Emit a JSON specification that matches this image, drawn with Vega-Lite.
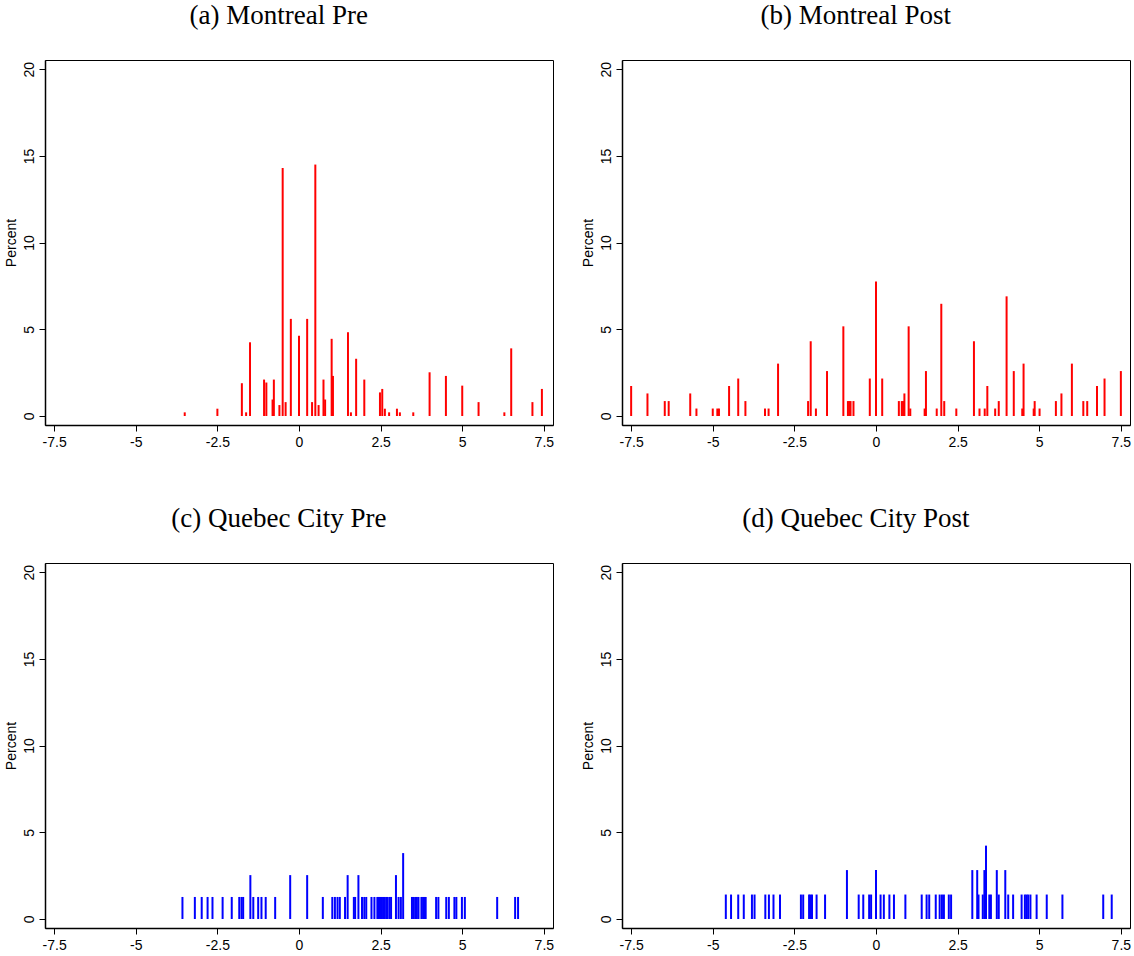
{
  "$schema": "https://vega.github.io/schema/vega-lite/v6.json",
  "background": "white",
  "padding": {"left": 3, "top": 1, "right": 0, "bottom": 0},
  "datasets": {
    "spikes": [
      {"panel": "a", "x": -3.5, "pct": 0.21},
      {"panel": "a", "x": -2.5, "pct": 0.42},
      {"panel": "a", "x": -1.75, "pct": 1.89},
      {"panel": "a", "x": -1.62, "pct": 0.21},
      {"panel": "a", "x": -1.5, "pct": 4.25},
      {"panel": "a", "x": -1.07, "pct": 2.1},
      {"panel": "a", "x": -1.0, "pct": 1.93},
      {"panel": "a", "x": -0.81, "pct": 0.95},
      {"panel": "a", "x": -0.77, "pct": 2.1},
      {"panel": "a", "x": -0.6, "pct": 0.63},
      {"panel": "a", "x": -0.5, "pct": 14.3},
      {"panel": "a", "x": -0.41, "pct": 0.8},
      {"panel": "a", "x": -0.25, "pct": 5.6},
      {"panel": "a", "x": 0.0, "pct": 4.62},
      {"panel": "a", "x": 0.25, "pct": 5.6},
      {"panel": "a", "x": 0.4, "pct": 0.8},
      {"panel": "a", "x": 0.5, "pct": 14.5},
      {"panel": "a", "x": 0.6, "pct": 0.63},
      {"panel": "a", "x": 0.75, "pct": 2.1},
      {"panel": "a", "x": 0.8, "pct": 0.95},
      {"panel": "a", "x": 1.0, "pct": 4.45},
      {"panel": "a", "x": 1.04, "pct": 2.31},
      {"panel": "a", "x": 1.5, "pct": 4.83},
      {"panel": "a", "x": 1.59, "pct": 0.21},
      {"panel": "a", "x": 1.75, "pct": 3.3},
      {"panel": "a", "x": 2.0, "pct": 2.1},
      {"panel": "a", "x": 2.48, "pct": 1.36},
      {"panel": "a", "x": 2.55, "pct": 1.56},
      {"panel": "a", "x": 2.63, "pct": 0.42},
      {"panel": "a", "x": 2.76, "pct": 0.21},
      {"panel": "a", "x": 3.0, "pct": 0.42},
      {"panel": "a", "x": 3.09, "pct": 0.21},
      {"panel": "a", "x": 3.5, "pct": 0.21},
      {"panel": "a", "x": 4.0, "pct": 2.52},
      {"panel": "a", "x": 4.5, "pct": 2.31},
      {"panel": "a", "x": 5.0, "pct": 1.75},
      {"panel": "a", "x": 5.5, "pct": 0.8},
      {"panel": "a", "x": 6.29, "pct": 0.21},
      {"panel": "a", "x": 6.5, "pct": 3.9},
      {"panel": "a", "x": 7.15, "pct": 0.8},
      {"panel": "a", "x": 7.44, "pct": 1.56},

      {"panel": "b", "x": -7.5, "pct": 1.73},
      {"panel": "b", "x": -7.0, "pct": 1.3},
      {"panel": "b", "x": -6.47, "pct": 0.86},
      {"panel": "b", "x": -6.35, "pct": 0.86},
      {"panel": "b", "x": -5.69, "pct": 1.3},
      {"panel": "b", "x": -5.5, "pct": 0.43},
      {"panel": "b", "x": -5.0, "pct": 0.43},
      {"panel": "b", "x": -4.86, "pct": 0.43},
      {"panel": "b", "x": -4.81, "pct": 0.43},
      {"panel": "b", "x": -4.5, "pct": 1.73},
      {"panel": "b", "x": -4.22, "pct": 2.16},
      {"panel": "b", "x": -4.0, "pct": 0.86},
      {"panel": "b", "x": -3.4, "pct": 0.43},
      {"panel": "b", "x": -3.29, "pct": 0.43},
      {"panel": "b", "x": -3.0, "pct": 3.02},
      {"panel": "b", "x": -2.08, "pct": 0.86},
      {"panel": "b", "x": -2.0, "pct": 4.31},
      {"panel": "b", "x": -1.84, "pct": 0.43},
      {"panel": "b", "x": -1.5, "pct": 2.59},
      {"panel": "b", "x": -1.0, "pct": 5.17},
      {"panel": "b", "x": -0.86, "pct": 0.86},
      {"panel": "b", "x": -0.82, "pct": 0.86},
      {"panel": "b", "x": -0.78, "pct": 0.86},
      {"panel": "b", "x": -0.69, "pct": 0.86},
      {"panel": "b", "x": -0.19, "pct": 2.16},
      {"panel": "b", "x": 0.0, "pct": 7.76},
      {"panel": "b", "x": 0.19, "pct": 2.16},
      {"panel": "b", "x": 0.7, "pct": 0.86},
      {"panel": "b", "x": 0.79, "pct": 0.86},
      {"panel": "b", "x": 0.83, "pct": 0.86},
      {"panel": "b", "x": 0.87, "pct": 1.3},
      {"panel": "b", "x": 1.0, "pct": 5.17},
      {"panel": "b", "x": 1.05, "pct": 0.43},
      {"panel": "b", "x": 1.49, "pct": 0.43},
      {"panel": "b", "x": 1.53, "pct": 2.59},
      {"panel": "b", "x": 1.86, "pct": 0.43},
      {"panel": "b", "x": 2.0, "pct": 6.47},
      {"panel": "b", "x": 2.09, "pct": 0.86},
      {"panel": "b", "x": 2.46, "pct": 0.43},
      {"panel": "b", "x": 3.0, "pct": 4.31},
      {"panel": "b", "x": 3.17, "pct": 0.43},
      {"panel": "b", "x": 3.33, "pct": 0.43},
      {"panel": "b", "x": 3.41, "pct": 1.73},
      {"panel": "b", "x": 3.65, "pct": 0.43},
      {"panel": "b", "x": 3.76, "pct": 0.86},
      {"panel": "b", "x": 4.0, "pct": 6.9},
      {"panel": "b", "x": 4.22, "pct": 2.59},
      {"panel": "b", "x": 4.48, "pct": 0.43},
      {"panel": "b", "x": 4.52, "pct": 3.02},
      {"panel": "b", "x": 4.83, "pct": 0.43},
      {"panel": "b", "x": 4.86, "pct": 0.86},
      {"panel": "b", "x": 5.01, "pct": 0.43},
      {"panel": "b", "x": 5.51, "pct": 0.86},
      {"panel": "b", "x": 5.68, "pct": 1.3},
      {"panel": "b", "x": 6.0, "pct": 3.02},
      {"panel": "b", "x": 6.35, "pct": 0.86},
      {"panel": "b", "x": 6.47, "pct": 0.86},
      {"panel": "b", "x": 6.77, "pct": 1.73},
      {"panel": "b", "x": 7.0, "pct": 2.16},
      {"panel": "b", "x": 7.5, "pct": 2.59},

      {"panel": "c", "x": -3.57, "pct": 1.27},
      {"panel": "c", "x": -3.19, "pct": 1.27},
      {"panel": "c", "x": -2.98, "pct": 1.27},
      {"panel": "c", "x": -2.8, "pct": 1.27},
      {"panel": "c", "x": -2.65, "pct": 1.27},
      {"panel": "c", "x": -2.34, "pct": 1.27},
      {"panel": "c", "x": -2.06, "pct": 1.27},
      {"panel": "c", "x": -1.83, "pct": 1.27},
      {"panel": "c", "x": -1.76, "pct": 1.27},
      {"panel": "c", "x": -1.71, "pct": 1.27},
      {"panel": "c", "x": -1.49, "pct": 2.53},
      {"panel": "c", "x": -1.4, "pct": 1.27},
      {"panel": "c", "x": -1.25, "pct": 1.27},
      {"panel": "c", "x": -1.15, "pct": 1.27},
      {"panel": "c", "x": -1.02, "pct": 1.27},
      {"panel": "c", "x": -0.73, "pct": 1.27},
      {"panel": "c", "x": -0.27, "pct": 2.53},
      {"panel": "c", "x": 0.25, "pct": 2.53},
      {"panel": "c", "x": 0.73, "pct": 1.27},
      {"panel": "c", "x": 1.02, "pct": 1.27},
      {"panel": "c", "x": 1.1, "pct": 1.27},
      {"panel": "c", "x": 1.18, "pct": 1.27},
      {"panel": "c", "x": 1.25, "pct": 1.27},
      {"panel": "c", "x": 1.41, "pct": 1.27},
      {"panel": "c", "x": 1.49, "pct": 2.53},
      {"panel": "c", "x": 1.68, "pct": 1.27},
      {"panel": "c", "x": 1.72, "pct": 1.27},
      {"panel": "c", "x": 1.82, "pct": 2.53},
      {"panel": "c", "x": 1.93, "pct": 1.27},
      {"panel": "c", "x": 2.0, "pct": 1.27},
      {"panel": "c", "x": 2.06, "pct": 1.27},
      {"panel": "c", "x": 2.22, "pct": 1.27},
      {"panel": "c", "x": 2.31, "pct": 1.27},
      {"panel": "c", "x": 2.4, "pct": 1.27},
      {"panel": "c", "x": 2.45, "pct": 1.27},
      {"panel": "c", "x": 2.5, "pct": 1.27},
      {"panel": "c", "x": 2.54, "pct": 1.27},
      {"panel": "c", "x": 2.58, "pct": 1.27},
      {"panel": "c", "x": 2.62, "pct": 1.27},
      {"panel": "c", "x": 2.67, "pct": 1.27},
      {"panel": "c", "x": 2.71, "pct": 1.27},
      {"panel": "c", "x": 2.77, "pct": 1.27},
      {"panel": "c", "x": 2.82, "pct": 1.27},
      {"panel": "c", "x": 2.97, "pct": 2.53},
      {"panel": "c", "x": 3.05, "pct": 1.27},
      {"panel": "c", "x": 3.12, "pct": 1.27},
      {"panel": "c", "x": 3.19, "pct": 3.8},
      {"panel": "c", "x": 3.46, "pct": 1.27},
      {"panel": "c", "x": 3.51, "pct": 1.27},
      {"panel": "c", "x": 3.56, "pct": 1.27},
      {"panel": "c", "x": 3.61, "pct": 1.27},
      {"panel": "c", "x": 3.66, "pct": 1.27},
      {"panel": "c", "x": 3.75, "pct": 1.27},
      {"panel": "c", "x": 3.8, "pct": 1.27},
      {"panel": "c", "x": 3.84, "pct": 1.27},
      {"panel": "c", "x": 3.88, "pct": 1.27},
      {"panel": "c", "x": 4.2, "pct": 1.27},
      {"panel": "c", "x": 4.27, "pct": 1.27},
      {"panel": "c", "x": 4.51, "pct": 1.27},
      {"panel": "c", "x": 4.59, "pct": 1.27},
      {"panel": "c", "x": 4.76, "pct": 1.27},
      {"panel": "c", "x": 4.82, "pct": 1.27},
      {"panel": "c", "x": 4.99, "pct": 1.27},
      {"panel": "c", "x": 5.08, "pct": 1.27},
      {"panel": "c", "x": 6.07, "pct": 1.27},
      {"panel": "c", "x": 6.62, "pct": 1.27},
      {"panel": "c", "x": 6.71, "pct": 1.27},

      {"panel": "d", "x": -4.6, "pct": 1.41},
      {"panel": "d", "x": -4.44, "pct": 1.41},
      {"panel": "d", "x": -4.22, "pct": 1.41},
      {"panel": "d", "x": -4.05, "pct": 1.41},
      {"panel": "d", "x": -3.8, "pct": 1.41},
      {"panel": "d", "x": -3.72, "pct": 1.41},
      {"panel": "d", "x": -3.39, "pct": 1.41},
      {"panel": "d", "x": -3.28, "pct": 1.41},
      {"panel": "d", "x": -3.14, "pct": 1.41},
      {"panel": "d", "x": -2.94, "pct": 1.41},
      {"panel": "d", "x": -2.3, "pct": 1.41},
      {"panel": "d", "x": -2.23, "pct": 1.41},
      {"panel": "d", "x": -2.05, "pct": 1.41},
      {"panel": "d", "x": -2.01, "pct": 1.41},
      {"panel": "d", "x": -1.96, "pct": 1.41},
      {"panel": "d", "x": -1.82, "pct": 1.41},
      {"panel": "d", "x": -1.56, "pct": 1.41},
      {"panel": "d", "x": -0.89, "pct": 2.82},
      {"panel": "d", "x": -0.53, "pct": 1.41},
      {"panel": "d", "x": -0.39, "pct": 1.41},
      {"panel": "d", "x": -0.21, "pct": 1.41},
      {"panel": "d", "x": -0.15, "pct": 1.41},
      {"panel": "d", "x": 0.0, "pct": 2.82},
      {"panel": "d", "x": 0.14, "pct": 1.41},
      {"panel": "d", "x": 0.24, "pct": 1.41},
      {"panel": "d", "x": 0.41, "pct": 1.41},
      {"panel": "d", "x": 0.55, "pct": 1.41},
      {"panel": "d", "x": 0.9, "pct": 1.41},
      {"panel": "d", "x": 1.4, "pct": 1.41},
      {"panel": "d", "x": 1.55, "pct": 1.41},
      {"panel": "d", "x": 1.63, "pct": 1.41},
      {"panel": "d", "x": 1.83, "pct": 1.41},
      {"panel": "d", "x": 1.95, "pct": 1.41},
      {"panel": "d", "x": 2.02, "pct": 1.41},
      {"panel": "d", "x": 2.08, "pct": 1.41},
      {"panel": "d", "x": 2.23, "pct": 1.41},
      {"panel": "d", "x": 2.3, "pct": 1.41},
      {"panel": "d", "x": 2.95, "pct": 2.82},
      {"panel": "d", "x": 3.1, "pct": 2.82},
      {"panel": "d", "x": 3.14, "pct": 1.41},
      {"panel": "d", "x": 3.27, "pct": 1.41},
      {"panel": "d", "x": 3.32, "pct": 2.82},
      {"panel": "d", "x": 3.37, "pct": 4.23},
      {"panel": "d", "x": 3.47, "pct": 1.41},
      {"panel": "d", "x": 3.52, "pct": 1.41},
      {"panel": "d", "x": 3.7, "pct": 2.82},
      {"panel": "d", "x": 3.76, "pct": 1.41},
      {"panel": "d", "x": 3.96, "pct": 2.82},
      {"panel": "d", "x": 4.05, "pct": 1.41},
      {"panel": "d", "x": 4.2, "pct": 1.41},
      {"panel": "d", "x": 4.46, "pct": 1.41},
      {"panel": "d", "x": 4.56, "pct": 1.41},
      {"panel": "d", "x": 4.61, "pct": 1.41},
      {"panel": "d", "x": 4.66, "pct": 1.41},
      {"panel": "d", "x": 4.73, "pct": 1.41},
      {"panel": "d", "x": 4.92, "pct": 1.41},
      {"panel": "d", "x": 5.23, "pct": 1.41},
      {"panel": "d", "x": 5.71, "pct": 1.41},
      {"panel": "d", "x": 6.96, "pct": 1.41},
      {"panel": "d", "x": 7.22, "pct": 1.41}
    ]
  },
  "data": {"name": "spikes"},
  "columns": 2,
  "spacing": {"row": 54, "column": 25},
  "concat": [
    {
      "title": "(a) Montreal Pre",
      "width": 508, "height": 365,
      "transform": [{"filter": "datum.panel == 'a'"}],
      "mark": {"type": "rule", "color": "#ff0000", "strokeWidth": 2},
      "encoding": {
        "x": {"field": "x", "type": "quantitative", "title": null,
              "scale": {"domain": [-7.78, 7.78], "nice": false, "zero": false},
              "axis": {"values": [-7.5, -5, -2.5, 0, 2.5, 5, 7.5], "labelExpr": "'' + datum.value"}},
        "y": {"field": "pct", "type": "quantitative", "title": "Percent",
              "scale": {"domain": [-0.52, 20.53], "nice": false, "zero": false},
              "axis": {"values": [0, 5, 10, 15, 20], "labelExpr": "'' + datum.value"}},
        "y2": {"datum": 0}
      }
    },
    {
      "title": "(b) Montreal Post",
      "width": 508, "height": 365,
      "transform": [{"filter": "datum.panel == 'b'"}],
      "mark": {"type": "rule", "color": "#ff0000", "strokeWidth": 2},
      "encoding": {
        "x": {"field": "x", "type": "quantitative", "title": null,
              "scale": {"domain": [-7.78, 7.78], "nice": false, "zero": false},
              "axis": {"values": [-7.5, -5, -2.5, 0, 2.5, 5, 7.5], "labelExpr": "'' + datum.value"}},
        "y": {"field": "pct", "type": "quantitative", "title": "Percent",
              "scale": {"domain": [-0.52, 20.53], "nice": false, "zero": false},
              "axis": {"values": [0, 5, 10, 15, 20], "labelExpr": "'' + datum.value"}},
        "y2": {"datum": 0}
      }
    },
    {
      "title": "(c) Quebec City Pre",
      "width": 508, "height": 365,
      "transform": [{"filter": "datum.panel == 'c'"}],
      "mark": {"type": "rule", "color": "#0000ff", "strokeWidth": 2},
      "encoding": {
        "x": {"field": "x", "type": "quantitative", "title": null,
              "scale": {"domain": [-7.78, 7.78], "nice": false, "zero": false},
              "axis": {"values": [-7.5, -5, -2.5, 0, 2.5, 5, 7.5], "labelExpr": "'' + datum.value"}},
        "y": {"field": "pct", "type": "quantitative", "title": "Percent",
              "scale": {"domain": [-0.52, 20.53], "nice": false, "zero": false},
              "axis": {"values": [0, 5, 10, 15, 20], "labelExpr": "'' + datum.value"}},
        "y2": {"datum": 0}
      }
    },
    {
      "title": "(d) Quebec City Post",
      "width": 508, "height": 365,
      "transform": [{"filter": "datum.panel == 'd'"}],
      "mark": {"type": "rule", "color": "#0000ff", "strokeWidth": 2},
      "encoding": {
        "x": {"field": "x", "type": "quantitative", "title": null,
              "scale": {"domain": [-7.78, 7.78], "nice": false, "zero": false},
              "axis": {"values": [-7.5, -5, -2.5, 0, 2.5, 5, 7.5], "labelExpr": "'' + datum.value"}},
        "y": {"field": "pct", "type": "quantitative", "title": "Percent",
              "scale": {"domain": [-0.52, 20.53], "nice": false, "zero": false},
              "axis": {"values": [0, 5, 10, 15, 20], "labelExpr": "'' + datum.value"}},
        "y2": {"datum": 0}
      }
    }
  ],
  "config": {
    "view": {"stroke": "#000000", "strokeWidth": 1},
    "axis": {
      "grid": false,
      "domainColor": "#000000",
      "domainWidth": 1.5,
      "tickColor": "#000000",
      "tickWidth": 1,
      "tickSize": 6,
      "labelFont": "Liberation Sans",
      "labelFontSize": 14,
      "labelColor": "#000000",
      "titleFont": "Liberation Sans",
      "titleFontSize": 14,
      "titleFontWeight": "normal",
      "titleColor": "#000000"
    },
    "axisX": {"labelPadding": 4},
    "axisY": {"labelAngle": -90, "labelAlign": "center", "labelBaseline": "alphabetic", "labelPadding": 6, "titlePadding": 4},
    "title": {
      "font": "Liberation Serif",
      "fontSize": 27,
      "fontWeight": "normal",
      "color": "#000000",
      "anchor": "middle",
      "frame": "bounds",
      "baseline": "alphabetic",
      "offset": 30
    }
  }
}
